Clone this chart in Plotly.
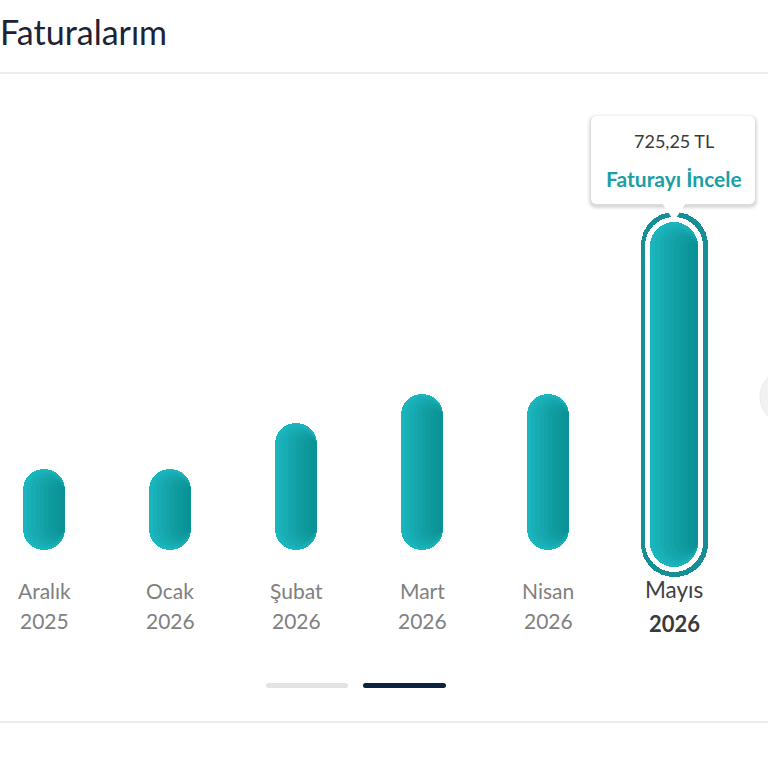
import plotly.graph_objects as go

# ---------------- data ----------------
title_text = "Faturalarım"
months = ["Aralık", "Ocak", "Şubat", "Mart", "Nisan", "Mayıs"]
years = ["2025", "2026", "2026", "2026", "2026", "2026"]
amounts = [180, 180, 280, 345, 345, 725.25]
selected_index = 5
tooltip_amount = "725,25 TL"
tooltip_link = "Faturayı İncele"

# ---------------- layout geometry (pixels) ----------------
W = H = 768
PX_PER_CAT = 126
X0_PX = 44
BASE_PX = 550
K = 328 / 725.25  # pixels per TL

x_range = [-X0_PX / PX_PER_CAT, (W - X0_PX) / PX_PER_CAT]
y_range = [-(H - BASE_PX) / K, BASE_PX / K]


def px2x(p):
    return p / PX_PER_CAT


def px2y(p):
    return p / K


def px(p):
    return p / W


def py(p):
    return 1 - p / H


BAR_LIGHT = "#1bb6bd"
BAR_SHADE = "rgba(0,108,114,0.07)"
SHADE_FRACS = [0.9, 0.8, 0.7, 0.6, 0.5, 0.4, 0.3, 0.2, 0.1]
RING_COLOR = "#168e95"
FONT = "Lato"

fig = go.Figure()


def add_pill(xs, lows, highs, width_px, color, gradient=False):
    fig.add_trace(go.Bar(
        x=xs, base=lows, y=[h - l for h, l in zip(highs, lows)],
        width=px2x(width_px), marker=dict(color=color, cornerradius="50%", line=dict(width=0)),
        hoverinfo="skip", showlegend=False))
    if gradient:
        R = width_px / 2
        for frac in SHADE_FRACS:
            w = width_px * frac
            r = w / 2
            shrink = px2y(R - r)
            fig.add_trace(go.Bar(
                x=xs, base=[l + shrink for l in lows],
                y=[(h - shrink) - (l + shrink) for h, l in zip(highs, lows)],
                width=px2x(w), offset=px2x(R - w),
                marker=dict(color=BAR_SHADE, cornerradius="50%", line=dict(width=0)),
                hoverinfo="skip", showlegend=False))


idx = list(range(len(months)))
normal = [i for i in idx if i != selected_index]

# normal bars
add_pill(normal, [0 for _ in normal], [amounts[i] for i in normal], 42, BAR_LIGHT, gradient=True)

# selected bar: ring, white gap, inner bar
s = selected_index
low_sel = -px2y(17)
high_sel = amounts[s]
add_pill([s], [low_sel - px2y(10)], [high_sel + px2y(10)], 67, RING_COLOR)
add_pill([s], [low_sel - px2y(5)], [high_sel + px2y(5)], 58, "#ffffff")
add_pill([s], [low_sel], [high_sel], 48, BAR_LIGHT, gradient=True)

shapes = []

# separator lines
shapes.append(dict(type="line", xref="paper", yref="paper", x0=0, x1=1, y0=py(73), y1=py(73),
                   line=dict(color="#e6e6e6", width=1.5)))
shapes.append(dict(type="line", xref="paper", yref="paper", x0=0, x1=1, y0=py(722), y1=py(722),
                   line=dict(color="#e4e4e4", width=1.5)))


def rounded_rect(x0, y0, x1, y1, r):
    return (
        f"M {px(x0 + r)} {py(y0)} L {px(x1 - r)} {py(y0)} Q {px(x1)} {py(y0)} {px(x1)} {py(y0 + r)} "
        f"L {px(x1)} {py(y1 - r)} Q {px(x1)} {py(y1)} {px(x1 - r)} {py(y1)} "
        f"L {px(x0 + r)} {py(y1)} Q {px(x0)} {py(y1)} {px(x0)} {py(y1 - r)} "
        f"L {px(x0)} {py(y0 + r)} Q {px(x0)} {py(y0)} {px(x0 + r)} {py(y0)} Z"
    )


# tooltip shadow + box
tx0, ty0, tx1, ty1 = 591, 116, 755, 204
for o, a in [(4, 0.025), (3, 0.03), (2, 0.04), (1, 0.05)]:
    shapes.append(dict(type="path", xref="paper", yref="paper",
                       path=rounded_rect(tx0 - o, ty0 - o + 2, tx1 + o, ty1 + o + 2, 6 + o),
                       fillcolor=f"rgba(0,0,0,{a})", line=dict(width=0)))
shapes.append(dict(type="path", xref="paper", yref="paper",
                   path=rounded_rect(tx0, ty0, tx1, ty1, 6),
                   fillcolor="#ffffff", line=dict(width=0)))
# tooltip pointer (white triangle pointing at selected bar top)
cx = X0_PX + PX_PER_CAT * s
shapes.append(dict(type="path", xref="paper", yref="paper",
                   path=f"M {px(cx - 12)} {py(ty1 - 1)} L {px(cx + 12)} {py(ty1 - 1)} L {px(cx)} {py(ty1 + 17)} Z",
                   fillcolor="#ffffff", line=dict(width=0)))

# pagination indicators
shapes.append(dict(type="path", xref="paper", yref="paper", path=rounded_rect(266, 683, 348, 688, 2.5),
                   fillcolor="#e3e3e3", line=dict(width=0)))
shapes.append(dict(type="path", xref="paper", yref="paper", path=rounded_rect(363, 683, 446, 688, 2.5),
                   fillcolor="#0c2340", line=dict(width=0)))

# scroll button partially visible at right edge
shapes.append(dict(type="circle", xref="paper", yref="paper",
                   x0=px(760), x1=px(816), y0=py(369), y1=py(425),
                   fillcolor="#f2f2f2", line=dict(color="#ebebeb", width=1)))

annotations = []
annotations.append(dict(text=title_text, xref="paper", yref="paper", x=px(-2), y=py(32),
                        xanchor="left", yanchor="middle", showarrow=False,
                        font=dict(family=FONT, size=34, color="#1e2236")))

for i in idx:
    if i == selected_index:
        annotations.append(dict(text=months[i], x=i, xref="x", y=py(589), yref="paper",
                                xanchor="center", yanchor="middle", showarrow=False,
                                font=dict(family=FONT, size=22.5, color="#404040")))
        annotations.append(dict(text=f"<b>{years[i]}</b>", x=i, xref="x", y=py(623), yref="paper",
                                xanchor="center", yanchor="middle", showarrow=False,
                                font=dict(family=FONT, size=22, color="#3a3a3a")))
    else:
        annotations.append(dict(text=months[i], x=i, xref="x", y=py(590), yref="paper",
                                xanchor="center", yanchor="middle", showarrow=False,
                                font=dict(family=FONT, size=21, color="#808080")))
        annotations.append(dict(text=years[i], x=i, xref="x", y=py(620), yref="paper",
                                xanchor="center", yanchor="middle", showarrow=False,
                                font=dict(family=FONT, size=21, color="#808080")))

annotations.append(dict(text=tooltip_amount, x=selected_index, xref="x", y=py(141), yref="paper",
                        xanchor="center", yanchor="middle", showarrow=False,
                        font=dict(family=FONT, size=18, color="#3a3a3a")))
annotations.append(dict(text=f"<b>{tooltip_link}</b>", x=selected_index, xref="x", y=py(178), yref="paper",
                        xanchor="center", yanchor="middle", showarrow=False,
                        font=dict(family=FONT, size=21, color="#1a9fa6")))

fig.update_layout(
    width=W, height=H, autosize=False,
    margin=dict(l=0, r=0, t=0, b=0, pad=0),
    paper_bgcolor="#ffffff", plot_bgcolor="#ffffff",
    barmode="overlay", bargap=0,
    showlegend=False,
    xaxis=dict(range=x_range, visible=False, fixedrange=True),
    yaxis=dict(range=y_range, visible=False, fixedrange=True),
    shapes=shapes, annotations=annotations,
)

fig.write_html("out.html", config={"displayModeBar": False},
               post_script="document.body.style.margin='0';document.body.style.overflow='hidden';")
